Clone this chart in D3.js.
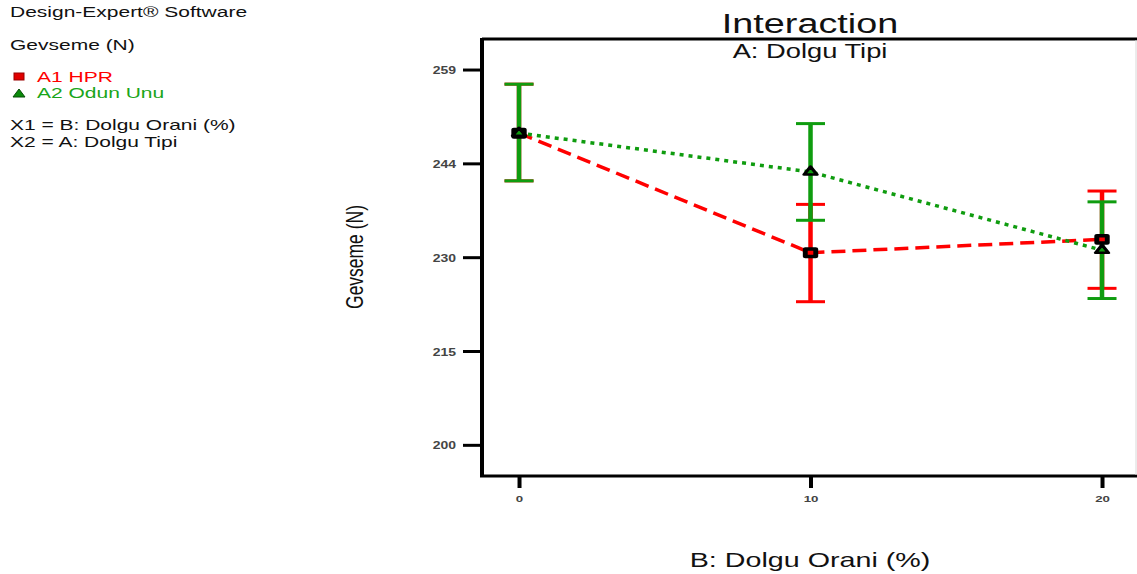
<!DOCTYPE html>
<html>
<head>
<meta charset="utf-8">
<script src="https://cdn.jsdelivr.net/npm/d3@7/dist/d3.min.js"></script>
<style>
  body { margin: 0; background: #fff; }
  svg { display: block; }
  text { font-family: "Liberation Sans", Arial, sans-serif; }
</style>
</head>
<body>
<div id="chart"></div>
<script>
// factor levels of B: Dolgu Orani (%)
var xLevels = [0, 10, 20];

// A1 HPR
var hprMean = [249.0, 230.2, 232.3];
var hprLow  = [241.5, 222.5, 224.6];
var hprHigh = [256.7, 237.8, 239.9];

// A2 Odun Unu
var odunMean = [249.0, 242.9, 230.6];
var odunLow  = [241.5, 235.3, 223.0];
var odunHigh = [256.7, 250.5, 238.2];

var yTicks = [200, 214.75, 229.5, 244.25, 259];
var yTickLabels = ["200", "215", "230", "244", "259"];
var xTicks = [0, 10, 20];

var W = 1137, H = 574;
var SX = 1.4; // the picture is stretched sideways
var RED = "#ff0000", GREEN = "#0f9c0f";

var svg = d3.select("#chart").append("svg")
    .attr("width", W).attr("height", H);

var x = d3.scaleLinear().domain([-1.27, 21.2]).range([482, 1137]);
var y = d3.scaleLinear().domain([195.1, 263.8]).range([476, 39]);

function label(txt, px, py, size, opts) {
    opts = opts || {};
    return svg.append("text")
        .attr("transform", "translate(" + px + "," + py + ") scale(" + (opts.sx || SX) + ",1)" + (opts.rotate ? " rotate(" + opts.rotate + ")" : ""))
        .attr("text-anchor", opts.anchor || "start")
        .style("font-size", size + "px")
        .style("fill", opts.color || "#111")
        .text(txt);
}

/* left hand info block */
label("Design-Expert\u00ae Software", 10, 17, 15);
label("Gevseme (N)", 10, 50, 15);
label("A1 HPR", 37, 82, 14, {color: RED, sx: 1.5});
label("A2 Odun Unu", 37, 98, 14, {color: "#1aa51a", sx: 1.5});
label("X1 = B: Dolgu Orani (%)", 10, 130, 14, {sx: 1.5});
label("X2 = A: Dolgu Tipi", 10, 147, 14, {sx: 1.5});

svg.append("rect").attr("x", 14).attr("y", 73).attr("width", 10).attr("height", 7)
    .style("fill", "#e00000").style("stroke", "#900").style("stroke-width", 1);
svg.append("path").attr("d", "M13,97 L25,97 L19,89 Z")
    .style("fill", "#0a8a0a").style("stroke", "#064d06").style("stroke-width", 1);

/* titles */
label("Interaction", 810, 33, 27, {anchor: "middle"});
label("A: Dolgu Tipi", 810, 58, 19.5, {anchor: "middle"});
label("B: Dolgu Orani (%)", 810, 567, 20.5, {anchor: "middle"});
label("Gevseme (N)", 363, 257, 17.5, {anchor: "middle", rotate: -90});

/* frame */
svg.append("line").attr("x1", 482).attr("x2", 1137).attr("y1", 39).attr("y2", 39)
    .style("stroke", "#000").style("stroke-width", 3);
svg.append("line").attr("x1", 480).attr("x2", 1137).attr("y1", 476).attr("y2", 476)
    .style("stroke", "#000").style("stroke-width", 3);
svg.append("line").attr("x1", 482).attr("x2", 482).attr("y1", 38).attr("y2", 477)
    .style("stroke", "#000").style("stroke-width", 4);
svg.append("line").attr("x1", 1136).attr("x2", 1136).attr("y1", 40).attr("y2", 475)
    .style("stroke", "#d8d8d8").style("stroke-width", 1);

/* axes */
var yAxis = svg.append("g").attr("transform", "translate(482,0)")
    .call(d3.axisLeft(y).tickValues(yTicks).tickSize(19)
        .tickFormat(function(d, i) { return yTickLabels[i]; }));
var xAxis = svg.append("g").attr("transform", "translate(0,477)")
    .call(d3.axisBottom(x).tickValues(xTicks).tickSize(11));

[yAxis, xAxis].forEach(function(ax) {
    ax.select(".domain").remove();
    ax.selectAll(".tick line").style("stroke", "#000");
});
yAxis.selectAll(".tick line").style("stroke-width", 3);
xAxis.selectAll(".tick line").style("stroke-width", 4);
yAxis.selectAll(".tick text")
    .attr("x", null).attr("dy", null)
    .attr("transform", "translate(-26,4) scale(" + SX + ",1)")
    .style("font-size", "10px").style("font-weight", "bold").style("fill", "#444");
xAxis.selectAll(".tick text")
    .attr("y", null).attr("dy", null)
    .attr("transform", "translate(0,25) scale(" + SX + ",1)")
    .style("font-size", "9.5px").style("font-weight", "bold").style("fill", "#444");

/* error bars: red first, green on top */
function errorBars(low, high, color) {
    var g = svg.append("g").style("stroke", color);
    xLevels.forEach(function(lv, i) {
        g.append("line").attr("x1", x(lv)).attr("x2", x(lv))
            .attr("y1", y(low[i])).attr("y2", y(high[i])).style("stroke-width", 4.5);
        [low[i], high[i]].forEach(function(v) {
            g.append("line").attr("x1", x(lv) - 14.5).attr("x2", x(lv) + 14.5)
                .attr("y1", y(v)).attr("y2", y(v)).style("stroke-width", 3);
        });
    });
}
errorBars(hprLow, hprHigh, RED);
errorBars(odunLow, odunHigh, GREEN);

/* lines */
var line = d3.line().x(function(d, i) { return x(xLevels[i]); }).y(function(d) { return y(d); });
svg.append("path").datum(hprMean).attr("d", line)
    .style("fill", "none").style("stroke", RED).style("stroke-width", 3.5)
    .style("stroke-dasharray", "14,7");
svg.append("path").datum(odunMean).attr("d", line)
    .style("fill", "none").style("stroke", GREEN).style("stroke-width", 3.5)
    .style("stroke-dasharray", "4,5");

/* markers */
svg.selectAll(".sq").data(hprMean).enter().append("path")
    .attr("d", d3.symbol(d3.symbolSquare, 56))
    .attr("transform", function(d, i) { return "translate(" + x(xLevels[i]) + "," + y(d) + ") scale(" + SX + ",1)"; })
    .style("fill", RED).style("stroke", "#000").style("stroke-width", 3.5).style("stroke-linejoin", "round");
svg.selectAll(".tri").data(odunMean).enter().append("path")
    .attr("d", d3.symbol(d3.symbolTriangle, 37))
    .attr("transform", function(d, i) { return "translate(" + x(xLevels[i]) + "," + y(d) + ") scale(" + SX + ",1)"; })
    .style("fill", GREEN).style("stroke", "#000").style("stroke-width", 2.5).style("stroke-linejoin", "round");
</script>
</body>
</html>
